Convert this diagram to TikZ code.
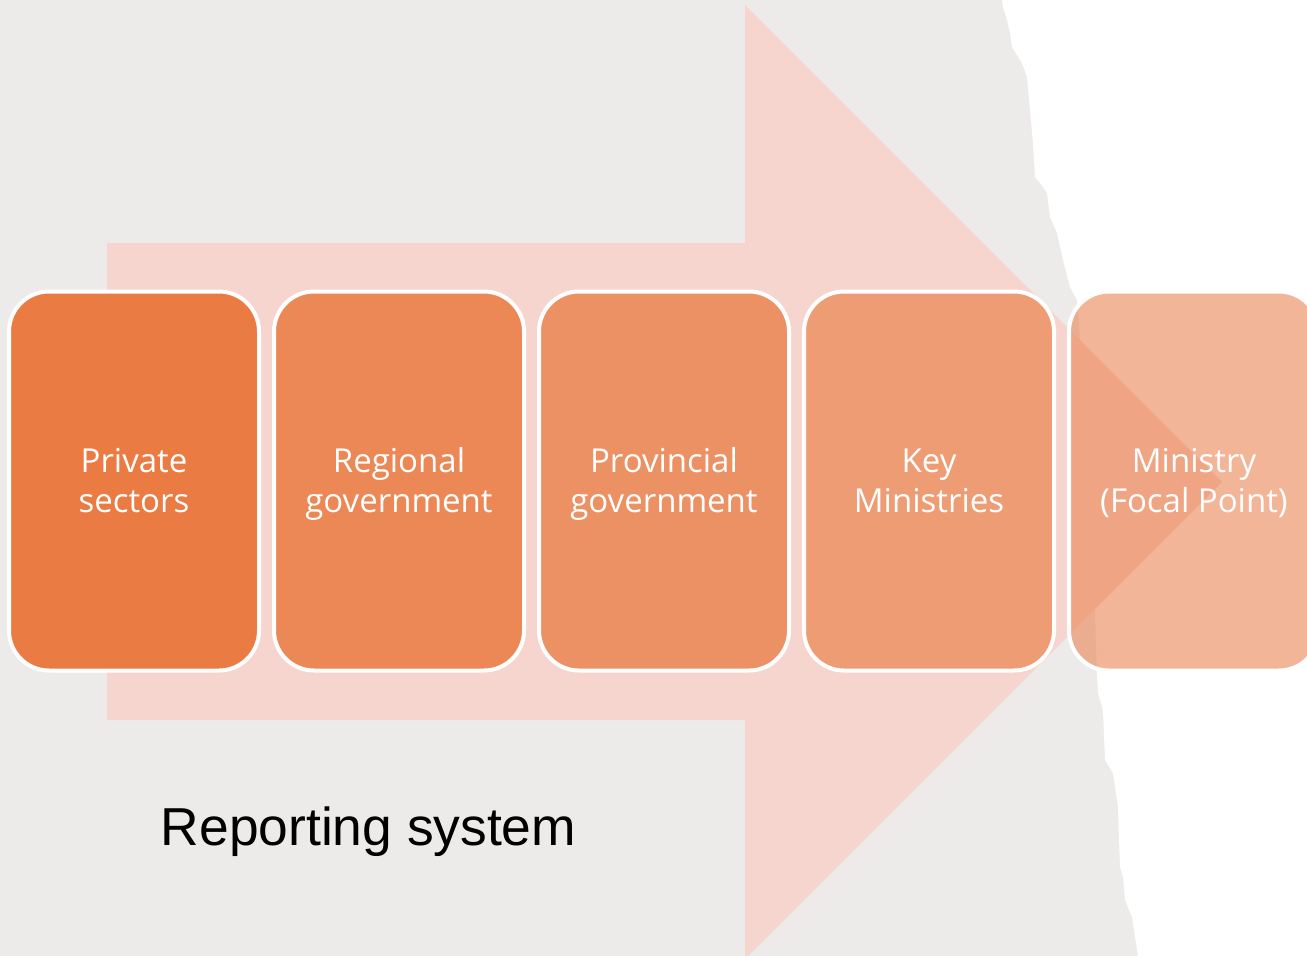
\documentclass[tikz,border=0pt]{standalone}
\usepackage{fontspec}
\setmainfont{Open Sans}
\newfontfamily\labelfont{Liberation Sans}
\definecolor{bggray}{HTML}{ECEBE9}
\definecolor{arrowpink}{HTML}{F6D5CE}
\definecolor{stageA}{HTML}{EA7B43}
\definecolor{stageB}{HTML}{EB8856}
\definecolor{stageC}{HTML}{EC9163}
\definecolor{stageD}{HTML}{EE9C74}
\definecolor{stageE}{HTML}{EB8553}
\newcommand{\twolines}[2]{\strut#1\\\strut#2}
\tikzset{
  stage/.style={rectangle, rounded corners=40pt, minimum width=250pt,
    minimum height=379pt, draw=white, line width=4pt, text=white,
    align=center, inner sep=0pt, font=\fontsize{33}{40}\selectfont},
  stagetext/.style={stage, draw=none, minimum size=0pt},
}
\begin{document}
\begin{tikzpicture}[x=1pt,y=-1pt]
\useasboundingbox (0,0) rectangle (1307,956);
\clip (0,0) rectangle (1307,956);
% background and torn edge
\fill[bggray] (0,0) rectangle (1307,956);
\fill[white] (1002,0) -- (1003,7) -- (1007,20) -- (1010,33) -- (1012,47)
  -- (1022,63) -- (1027,77) -- (1030,110) -- (1033,143) -- (1035,177)
  -- (1040,183) -- (1047,193) -- (1050,217) -- (1057,233) -- (1063,260)
  -- (1070,287) -- (1077,300) -- (1085,400) -- (1092,560) -- (1095,613)
  -- (1097,673) -- (1098,693) -- (1103,710) -- (1105,760) -- (1113,773)
  -- (1118,807) -- (1120,867) -- (1123,877) -- (1125,900) -- (1132,917)
  -- (1138,956) -- (1307,956) -- (1307,0) -- cycle;
% big arrow
\fill[arrowpink] (107,243) -- (745,243) -- (745,5) -- (1222,482)
  -- (745,959) -- (745,720) -- (107,720) -- cycle;

\node[stage, fill=stageA] (private) at (134,481) {};
\node[stage, fill=stageB] (regional) at (399,481) {};
\node[stage, fill=stageC] (provincial) at (664,481) {};
\node[stage, fill=stageD] (keymin) at (929,481) {};
\node[stage, fill=stageE, fill opacity=0.6] (focal) at (1194,481) {};

% labels of the stages
\node[stagetext] (private-txt) at (134,484) {\twolines{Private}{sectors}};
\node[stagetext] (regional-txt) at (399,484) {\twolines{Regional}{government}};
\node[stagetext] (provincial-txt) at (664,484) {\twolines{Provincial}{government}};
\node[stagetext] (keymin-txt) at (929,484) {\twolines{Key}{Ministries}};
\node[stagetext] (focal-txt) at (1194,484) {\twolines{Ministry}{(Focal Point)}};

\node[font=\labelfont\fontsize{53.4}{64}\selectfont, anchor=base] (report) at (368.5,845)
     {Reporting system};
\end{tikzpicture}
\end{document}
